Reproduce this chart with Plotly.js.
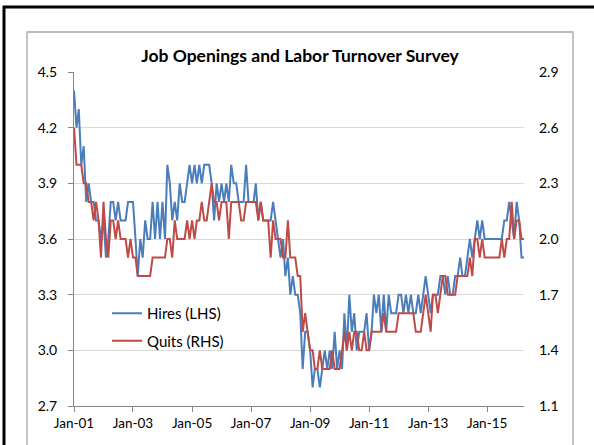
<!DOCTYPE html>
<html>
<head>
<meta charset="utf-8">
<script src="https://cdn.plot.ly/plotly-3.0.1.min.js"></script>
<style>
html,body{margin:0;padding:0;background:#fff;}
#chart{width:594px;height:445px;}
</style>
</head>
<body>
<div id="chart"></div>
<script>
// Monthly series, first month = January 2001
var startYear = 2001;
var startMonth = 1;

// Hires rate (LHS)
var hires = [
4.4,4.2,4.3,4.0,4.1,3.8,3.9,3.8,3.8,3.7,
3.7,3.6,3.7,3.5,3.6,3.8,3.8,3.7,3.8,3.7,
3.7,3.7,3.8,3.8,3.8,3.6,3.4,3.6,3.5,3.7,
3.6,3.6,3.8,3.6,3.8,3.6,3.8,3.6,4.0,3.9,
3.7,3.8,3.7,3.9,3.8,3.8,3.9,4.0,3.9,4.0,
3.9,4.0,3.9,4.0,4.0,4.0,3.9,3.7,3.9,3.8,
3.9,3.8,3.9,3.8,4.0,3.9,3.9,3.8,3.8,3.8,
4.0,3.8,3.8,3.8,3.9,3.7,3.8,3.7,3.7,3.7,
3.7,3.8,3.7,3.6,3.5,3.6,3.4,3.5,3.3,3.4,
3.3,3.3,3.2,2.9,3.1,3.1,3.0,2.8,2.9,2.9,
2.8,2.9,3.0,2.9,3.0,2.9,3.1,2.9,3.0,2.9,
3.2,3.0,3.3,3.1,3.2,3.0,3.1,3.1,3.1,3.2,
3.0,3.1,3.3,3.2,3.3,3.1,3.3,3.1,3.3,3.2,
3.2,3.2,3.3,3.3,3.2,3.3,3.2,3.3,3.2,3.2,
3.3,3.2,3.3,3.4,3.3,3.2,3.3,3.3,3.3,3.4,
3.4,3.3,3.4,3.3,3.3,3.4,3.4,3.5,3.4,3.4,
3.5,3.6,3.5,3.6,3.7,3.6,3.7,3.6,3.6,3.6,
3.6,3.6,3.6,3.6,3.6,3.7,3.7,3.8,3.7,3.6,
3.8,3.7,3.5,3.5
];

// Quits rate (RHS)
var quits = [
2.6,2.4,2.4,2.4,2.3,2.3,2.2,2.2,2.1,2.2,
2.1,1.9,2.2,2.0,1.9,2.1,2.1,2.0,2.1,2.0,
2.0,2.0,1.9,2.0,1.9,1.9,1.8,1.8,1.8,1.8,
1.8,1.8,1.9,1.9,1.9,1.9,1.9,1.9,2.0,2.0,
1.9,2.1,2.0,2.0,2.0,2.0,2.1,2.0,2.1,2.0,
2.1,2.1,2.2,2.1,2.1,2.2,2.3,2.2,2.2,2.1,
2.2,2.2,2.2,2.0,2.2,2.2,2.2,2.2,2.1,2.1,
2.2,2.2,2.2,2.2,2.2,2.1,2.2,2.1,2.1,2.1,
1.9,2.1,2.0,2.0,2.0,1.9,1.9,2.1,1.9,1.9,
1.9,1.8,1.8,1.5,1.6,1.5,1.4,1.4,1.3,1.3,
1.4,1.3,1.3,1.3,1.3,1.4,1.3,1.3,1.3,1.4,
1.5,1.4,1.5,1.4,1.5,1.5,1.4,1.4,1.5,1.4,
1.4,1.5,1.5,1.5,1.5,1.5,1.6,1.5,1.5,1.5,
1.5,1.5,1.6,1.6,1.6,1.6,1.6,1.6,1.6,1.5,
1.5,1.5,1.6,1.7,1.6,1.5,1.7,1.7,1.6,1.7,
1.8,1.8,1.7,1.7,1.7,1.7,1.8,1.8,1.8,1.8,
1.8,1.9,1.8,2.0,2.0,1.9,2.0,1.9,1.9,1.9,
1.9,1.9,1.9,1.9,2.0,1.9,2.0,2.0,2.2,2.0,
2.1,2.1,2.0,2.0
];

var xTickDates = ['2001-01-01','2003-01-01','2005-01-01','2007-01-01','2009-01-01','2011-01-01','2013-01-01','2015-01-01'];
var xTickLabels = ['Jan-01','Jan-03','Jan-05','Jan-07','Jan-09','Jan-11','Jan-13','Jan-15'];
var leftTicks = [2.7,3.0,3.3,3.6,3.9,4.2,4.5];
var rightTicks = [1.1,1.4,1.7,2.0,2.3,2.6,2.9];

function monthDate(i){
  var t = (startMonth - 1) + i;
  var y = startYear + Math.floor(t/12);
  var m = (t % 12) + 1;
  return y + '-' + (m < 10 ? '0' + m : m) + '-01';
}
var dates = hires.map(function(_, i){ return monthDate(i); });

var FONT = 'Lato, "Open Sans", sans-serif';
// plot area in pixels
var L = 74, R = 524, T = 72, B = 406, W = 594, H = 445;
function px(x){ return (x - L) / (R - L); }
function py(y){ return (B - y) / (B - T); }

var traces = [
  {x: dates, y: hires, name: 'Hires (LHS)', type: 'scatter', mode: 'lines',
   line: {color: '#4a7ebb', width: 2}, yaxis: 'y', legendgroup: 'a'},
  {x: dates, y: quits, name: 'Quits (RHS)', type: 'scatter', mode: 'lines',
   line: {color: '#be4b48', width: 2}, yaxis: 'y2', legendgroup: 'b'}
];

var layout = {
  width: W, height: H,
  margin: {l: L, r: W - R, t: T, b: H - B, pad: 0},
  paper_bgcolor: '#ffffff', plot_bgcolor: '#ffffff',
  font: {family: FONT, size: 13, color: '#000'},
  title: {text: '<b>Job Openings and Labor Turnover Survey</b>',
    font: {family: FONT, size: 17.5, color: '#000'},
    x: 300 / W, xref: 'container', xanchor: 'center',
    y: 1 - 56 / H, yref: 'container', yanchor: 'middle'},
  showlegend: true,
  legend: {x: px(107), y: py(297), xanchor: 'left', yanchor: 'top',
    bgcolor: 'rgba(0,0,0,0)', borderwidth: 0, tracegroupgap: 5,
    font: {family: FONT, size: 15, color: '#000'}},
  xaxis: {type: 'date', range: [dates[0], dates[dates.length - 1]],
    tickvals: xTickDates, ticktext: xTickLabels,
    showgrid: false, zeroline: false, showline: true, linecolor: '#868686', linewidth: 1,
    ticks: 'outside', ticklen: 5, tickcolor: '#868686', tickwidth: 1,
    tickfont: {family: FONT, size: 13.5, color: '#000'}},
  yaxis: {range: [2.7, 4.5], tickvals: leftTicks, tickformat: '.1f',
    showgrid: true, gridcolor: '#d9d9d9', gridwidth: 1, zeroline: false,
    showline: true, linecolor: '#868686', linewidth: 1,
    ticks: 'outside', ticklen: 5, tickcolor: '#868686', ticklabelstandoff: 8,
    tickfont: {family: FONT, size: 14, color: '#000'}},
  yaxis2: {range: [1.1, 2.9], tickvals: rightTicks, tickformat: '.1f',
    overlaying: 'y', side: 'right', showgrid: false, zeroline: false, showline: false,
    ticks: '', ticklabelstandoff: 14,
    tickfont: {family: FONT, size: 14, color: '#000'}},
  shapes: [
    {type: 'rect', xref: 'paper', yref: 'paper',
     x0: px(4), x1: px(620), y0: py(470), y1: py(7),
     line: {color: '#000', width: 3}, fillcolor: 'rgba(0,0,0,0)'},
    {type: 'rect', xref: 'paper', yref: 'paper',
     x0: px(27), x1: px(573), y0: py(470), y1: py(32),
     line: {color: '#a6a6a6', width: 1.3}, fillcolor: 'rgba(0,0,0,0)'}
  ]
};

Plotly.newPlot('chart', traces, layout, {displayModeBar: false, staticPlot: true});
</script>
</body>
</html>
